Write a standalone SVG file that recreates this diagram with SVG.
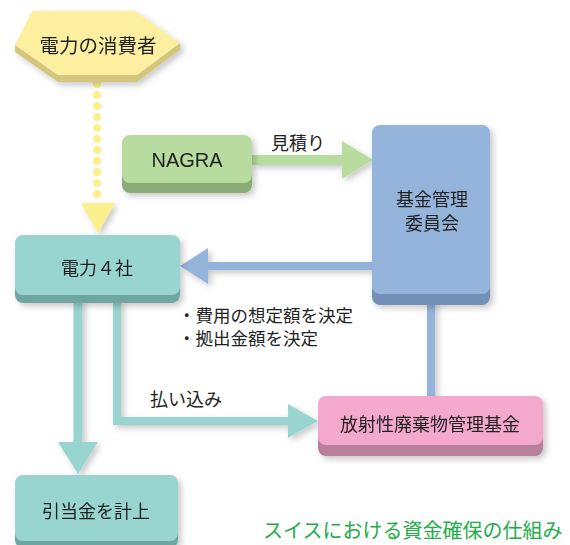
<svg xmlns="http://www.w3.org/2000/svg" width="570" height="545" viewBox="0 0 570 545">
<defs>
<filter id="sh" x="-20%" y="-20%" width="140%" height="150%">
<feDropShadow dx="3" dy="3" stdDeviation="3" flood-color="#000" flood-opacity="0.22"/>
</filter>
</defs>
<style>
text{font-family:"Noto Sans CJK JP","Liberation Sans",sans-serif;fill:#222;text-anchor:middle;dominant-baseline:central}
.lbl{font-size:18px}
.blt{font-size:17.5px;text-anchor:start}
.lat{font-family:"Liberation Sans",Arial,sans-serif;font-size:20px}
.title{font-size:20px;fill:#22ad48;text-anchor:start}
</style>
<rect width="570" height="545" fill="#fff"/>
<g id="connectors">
<g fill="#fcf08c">
<line x1="97" y1="84" x2="97" y2="196" stroke="#fcf08c" stroke-width="8" stroke-linecap="round" stroke-dasharray="0 11"/>
<polygon points="81,203 115,203 98,233" filter="url(#sh)"/>
</g>
<g filter="url(#sh)">
<line x1="252" y1="160" x2="343" y2="160" stroke="#b8dca0" stroke-width="10"/>
<polygon points="342,141 342,179 373,160" fill="#b8dca0"/>
</g>
<g filter="url(#sh)">
<line x1="372" y1="266" x2="207" y2="266" stroke="#94b4dc" stroke-width="8"/>
<polygon points="208,248 208,284 180,266" fill="#94b4dc"/>
<line x1="431" y1="300" x2="431" y2="397" stroke="#94b4dc" stroke-width="8"/>
</g>
<g filter="url(#sh)">
<line x1="78" y1="300" x2="78" y2="443" stroke="#98d4d0" stroke-width="9"/>
<polygon points="58,442 98,442 78,474" fill="#98d4d0"/>
<polyline points="117,300 117,421 289,421" fill="none" stroke="#98d4d0" stroke-width="8"/>
<polygon points="288,404 288,438 318,421" fill="#98d4d0"/>
</g>
<text class="lbl" x="298" y="142">見積り</text>
<text class="lbl" x="186" y="398">払い込み</text>
<text class="blt" x="178" y="314">・費用の想定額を決定</text>
<text class="blt" x="178" y="337">・拠出金額を決定</text>
</g>
<g id="consumer" filter="url(#sh)">
<polygon points="15,45 58,75 137,75 180,43 180,50 137,82 58,82 15,52" fill="#d2c57e"/>
<polygon points="32,11 135,11 180,43 137,75 58,75 15,45" fill="#fcf0a0"/>
<text x="98" y="44" style="font-size:19.5px">電力の消費者</text>
</g>
<g id="nagra" filter="url(#sh)">
<rect x="122" y="140" width="130" height="53" rx="8" fill="#8aac78"/>
<rect x="122" y="135" width="130" height="48" rx="8" fill="#b8dca0"/>
<text class="lat" x="187" y="160">NAGRA</text>
</g>
<g id="committee" filter="url(#sh)">
<rect x="372" y="130" width="118" height="175" rx="8" fill="#7290b8"/>
<rect x="372" y="125" width="118" height="169" rx="8" fill="#94b4dc"/>
<text class="lbl" x="432" y="198">基金管理</text>
<text class="lbl" x="432" y="222">委員会</text>
</g>
<g id="utilities" filter="url(#sh)">
<rect x="15" y="240" width="165" height="63" rx="8" fill="#70a6a2"/>
<rect x="15" y="235" width="165" height="60" rx="8" fill="#98d4d0"/>
<text class="lbl" x="97" y="267">電力４社</text>
</g>
<g id="fund" filter="url(#sh)">
<rect x="318" y="401" width="225" height="55" rx="8" fill="#b8809a"/>
<rect x="318" y="396" width="225" height="49" rx="8" fill="#f4a8cc"/>
<text class="lbl" x="430" y="423">放射性廃棄物管理基金</text>
</g>
<g id="provision" filter="url(#sh)">
<rect x="15" y="480" width="163" height="68" rx="8" fill="#70a6a2"/>
<rect x="15" y="475" width="163" height="66" rx="8" fill="#98d4d0"/>
<text class="lbl" x="96" y="510">引当金を計上</text>
</g>
<text class="title" x="263" y="529">スイスにおける資金確保の仕組み</text>
</svg>
